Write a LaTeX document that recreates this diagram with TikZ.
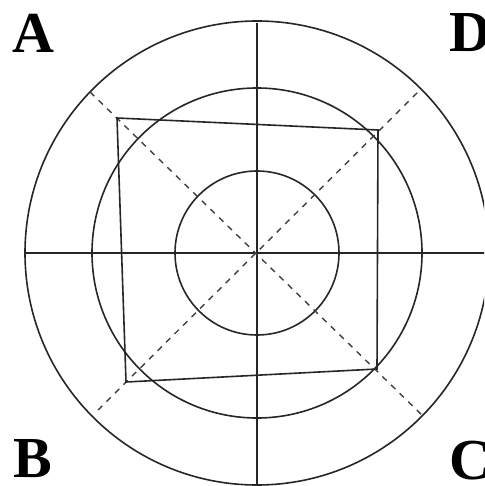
\documentclass[tikz,border=0pt]{standalone}
\usepackage{fontspec}
\setmainfont{Liberation Serif}
\begin{document}
\begin{tikzpicture}[x=1pt,y=-1pt,
  ln/.style={draw=black!85,line width=1.6pt},
  dsh/.style={draw=black!75,line width=1.4pt,dash pattern=on 6pt off 6pt},
  lbl/.style={font=\bfseries\fontsize{58}{58}\selectfont,inner sep=0pt}]
\useasboundingbox (0,0) rectangle (484,486);
\clip (0,0) rectangle (484,486);
\coordinate (O) at (257,253);
% circles
\draw[ln] (O) circle[radius=232];
\draw[ln] (O) circle[radius=165];
\draw[ln] (O) circle[radius=82];
% axes
\coordinate (T) at (257,23);
\coordinate (Bm) at (257,490);
\coordinate (L) at (25,253);
\coordinate (R) at (490,253);
\draw[ln] (T) -- (Bm);
\draw[ln] (L) -- (R);
% diagonals
\coordinate (dA) at (90,92);
\coordinate (dC) at (422,415);
\coordinate (dB) at (98,410);
\coordinate (dD) at (418,92);
\draw[dsh] (dA) -- (dC);
\draw[dsh] (dB) -- (dD);
% quadrilateral
\coordinate (qA) at (117,118);
\coordinate (qD) at (378,130);
\coordinate (qC) at (377,369);
\coordinate (qB) at (126,382);
\draw[ln,line join=miter] (qA) -- (qD) -- (qC) -- (qB) -- cycle;
% labels
\node[lbl] (la) at (33,33) {A};
\node[lbl] (ld) at (470,33) {D};
\node[lbl] (lb) at (33,459) {B};
\node[lbl] (lc) at (470,461) {C};
\end{tikzpicture}
\end{document}
